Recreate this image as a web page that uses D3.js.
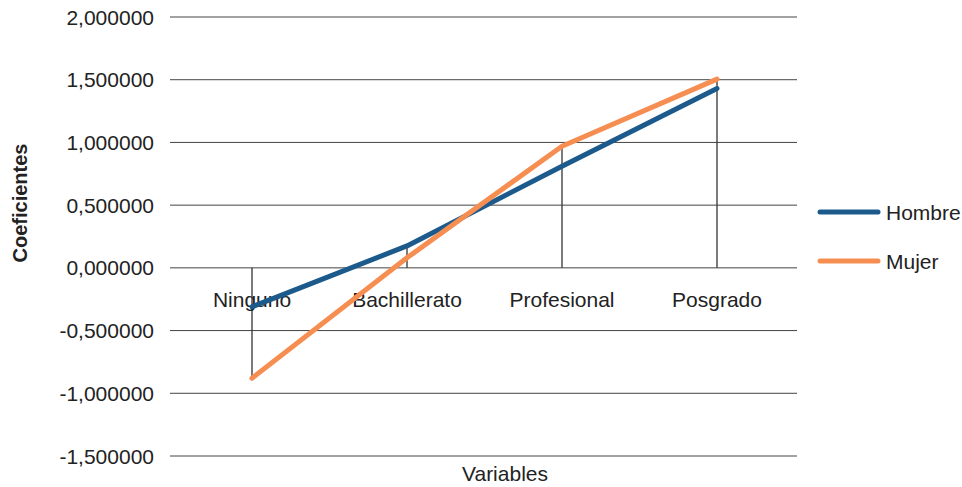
<!DOCTYPE html>
<html>
<head>
<meta charset="utf-8">
<script src="https://cdn.jsdelivr.net/npm/d3@7"></script>
<style>
  body { margin: 0; background: #fff; }
  text { font-family: "Liberation Sans", Arial, sans-serif; fill: #222; }
</style>
</head>
<body>
<div id="chart"></div>
<script>
// data
var categories = ["Ninguno", "Bachillerato", "Profesional", "Posgrado"];
var hombre = [-0.31, 0.175, 0.81, 1.43];
var mujer = [-0.88, 0.08, 0.97, 1.505];
var yTicks = [-1.5, -1.0, -0.5, 0, 0.5, 1.0, 1.5, 2.0];
var seriesNames = ["Hombre", "Mujer"];
var colors = ["#1c5a8c", "#f68e52"];

var width = 962, height = 487;
var plotLeft = 170, plotRight = 797;

var svg = d3.select("#chart").append("svg")
    .attr("width", width)
    .attr("height", height);

var y = d3.scaleLinear().domain([-1.5, 2.0]).range([456, 17]);
var x = d3.scalePoint().domain(categories).range([252, 717]);

// gridlines
svg.append("g").selectAll("line")
    .data(yTicks)
    .enter().append("line")
    .attr("x1", plotLeft).attr("x2", plotRight)
    .attr("y1", function(d) { return y(d); })
    .attr("y2", function(d) { return y(d); })
    .attr("stroke", "#444")
    .attr("stroke-width", 1);

// y labels
var fmt = function(d) { return d3.format(".6f")(d).replace(".", ",").replace("−", "-"); };
svg.append("g").selectAll("text")
    .data(yTicks)
    .enter().append("text")
    .attr("x", 154)
    .attr("y", function(d) { return y(d); })
    .attr("dy", "0.36em")
    .attr("text-anchor", "end")
    .style("font-size", "21px")
    .text(fmt);

// drop lines from zero to the farthest value
var series = [hombre, mujer];
svg.append("g").selectAll("line")
    .data(categories)
    .enter().append("line")
    .attr("x1", function(d) { return x(d); })
    .attr("x2", function(d) { return x(d); })
    .attr("y1", y(0))
    .attr("y2", function(d, i) {
      var v = Math.abs(hombre[i]) > Math.abs(mujer[i]) ? hombre[i] : mujer[i];
      return y(v);
    })
    .attr("stroke", "#333")
    .attr("stroke-width", 1.3);

// category labels
svg.append("g").selectAll("text")
    .data(categories)
    .enter().append("text")
    .attr("x", function(d) { return x(d); })
    .attr("y", 307)
    .attr("text-anchor", "middle")
    .style("font-size", "21px")
    .text(function(d) { return d; });

// lines
var line = d3.line()
    .x(function(d, i) { return x(categories[i]); })
    .y(function(d) { return y(d); });

series.forEach(function(s, k) {
  svg.append("path")
      .datum(s)
      .attr("d", line)
      .attr("fill", "none")
      .attr("stroke", colors[k])
      .attr("stroke-width", 5)
      .attr("stroke-linecap", "round")
      .attr("stroke-linejoin", "round");
});

// axis titles
svg.append("text")
    .attr("x", 505).attr("y", 481)
    .attr("text-anchor", "middle")
    .style("font-size", "21px")
    .text("Variables");

svg.append("text")
    .attr("transform", "translate(27,203) rotate(-90)")
    .attr("text-anchor", "middle")
    .style("font-size", "20px")
    .style("font-weight", "bold")
    .text("Coeficientes");

// legend
var legend = svg.append("g").selectAll("g")
    .data(seriesNames)
    .enter().append("g")
    .attr("transform", function(d, i) { return "translate(820," + (212 + i * 49) + ")"; });

legend.append("line")
    .attr("x1", 0).attr("x2", 58)
    .attr("stroke", function(d, i) { return colors[i]; })
    .attr("stroke-width", 5)
    .attr("stroke-linecap", "round");

legend.append("text")
    .attr("x", 66)
    .attr("dy", "0.36em")
    .style("font-size", "21px")
    .text(function(d) { return d; });
</script>
</body>
</html>
